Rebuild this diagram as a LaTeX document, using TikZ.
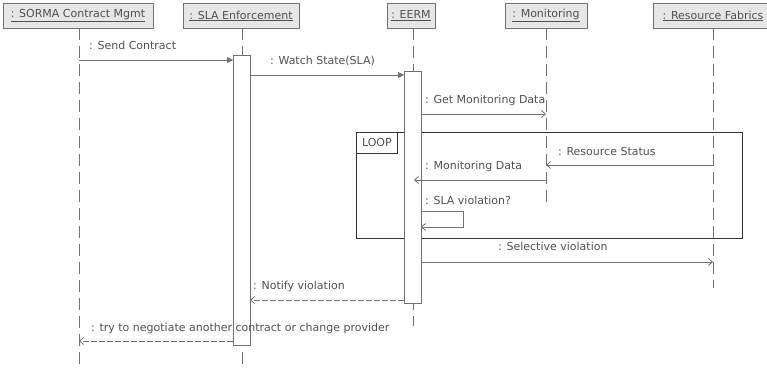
\documentclass[tikz,border=0pt]{standalone}
\usepackage{fontspec}
\setmainfont{DejaVu Sans}
\usetikzlibrary{arrows.meta}
\definecolor{txt}{HTML}{505050}
\definecolor{ln}{HTML}{707070}
\definecolor{hdr}{HTML}{E6E6E6}
\begin{document}
\begin{tikzpicture}[x=1pt,y=-1pt,
  font=\fontsize{11}{13}\selectfont,
  every node/.style={text=txt, inner sep=0pt},
  head/.style={draw=ln, fill=hdr, line width=0.8pt, minimum height=25pt, anchor=north},
  life/.style={draw=ln, line width=0.8pt, dash pattern=on 12pt off 6pt},
  act/.style={draw=ln, fill=white, line width=0.8pt, anchor=north west, minimum width=17pt},
  msg/.style={draw=ln, line width=0.8pt},
  sync/.style={msg, -{Triangle[length=6pt,width=6pt]}},
  async/.style={msg, -{Straight Barb[length=4pt,width=7pt]}},
  ret/.style={msg, dash pattern=on 6pt off 2pt, -{Straight Barb[length=4pt,width=7pt]}},
  lbl/.style={anchor=west},
  frame/.style={draw=black!80, line width=0.8pt}
]
\useasboundingbox (0,0) rectangle (767,367);

% headers
\node[head, minimum width=150pt] (h1) at (78,3) {\underline{: SORMA Contract Mgmt}};
\node[head, minimum width=116pt] (h2) at (241,3) {\underline{: SLA Enforcement}};
\node[head, minimum width=48pt] (h3) at (411,3) {\underline{: EERM}};
\node[head, minimum width=82pt] (h4) at (546,3) {\underline{: Monitoring}};
\node[head, minimum width=120pt] (h5) at (713,3) {\underline{: Resource Fabrics}};

% lifeline ends
\coordinate (l1s) at (79,28); \coordinate (l1e) at (79,367);
\coordinate (l2s) at (242,28); \coordinate (l2e) at (242,367);
\coordinate (l3s) at (413,28); \coordinate (l3e) at (413,326);
\coordinate (l4s) at (546,28); \coordinate (l4e) at (546,205);
\coordinate (l5s) at (713,28); \coordinate (l5e) at (713,288);
\draw[life] (l1s) -- (l1e);
\draw[life] (l2s) -- (l2e);
\draw[life] (l3s) -- (l3e);
\draw[life] (l4s) -- (l4e);
\draw[life] (l5s) -- (l5e);

% LOOP frame
\node[frame, anchor=north west, minimum width=386pt, minimum height=106pt] (loop) at (356,132) {};
\node[frame, anchor=north west, minimum width=41pt, minimum height=21pt, fill=white] (looptag) at (356,132) {LOOP};

% activations
\node[act, minimum height=290pt] (a2) at (233,55) {};
\node[act, minimum height=232pt] (a3) at (404,71) {};

% message endpoints
\coordinate (m1a) at (79,60);  \coordinate (m1b) at (233,60);
\coordinate (m2a) at (250,75); \coordinate (m2b) at (404,75);
\coordinate (m3a) at (421,114); \coordinate (m3b) at (546,114);
\coordinate (m4a) at (713,165); \coordinate (m4b) at (546,165);
\coordinate (m5a) at (546,180); \coordinate (m5b) at (414,180);
\coordinate (m6a) at (421,211); \coordinate (m6r) at (463,211); \coordinate (m6s) at (463,227); \coordinate (m6b) at (421,227);
\coordinate (m7a) at (421,262); \coordinate (m7b) at (713,262);
\coordinate (m8a) at (404,300); \coordinate (m8b) at (250,300);
\coordinate (m9a) at (233,341); \coordinate (m9b) at (79,341);

\draw[sync] (m1a) -- (m1b);
\draw[sync] (m2a) -- (m2b);
\draw[async] (m3a) -- (m3b);
\draw[async] (m4a) -- (m4b);
\draw[async] (m5a) -- (m5b);
\draw[async] (m6a) -- (m6r) -- (m6s) -- (m6b);
\draw[async] (m7a) -- (m7b);
\draw[ret] (m8a) -- (m8b);
\draw[ret] (m9a) -- (m9b);

% labels
\node[lbl] (t1) at (89,45) {: Send Contract};
\node[lbl] (t2) at (270,61) {: Watch State(SLA)};
\node[lbl] (t3) at (425,100) {: Get Monitoring Data};
\node[lbl] (t4) at (558,151) {: Resource Status};
\node[lbl] (t5) at (425,166) {: Monitoring Data};
\node[lbl] (t6) at (425,200) {: SLA violation?};
\node[lbl] (t7) at (498,246) {: Selective violation};
\node[lbl] (t8) at (253,286) {: Notify violation};
\node[lbl] (t9) at (91,328) {: try to negotiate another contract or change provider};
\end{tikzpicture}
\end{document}
